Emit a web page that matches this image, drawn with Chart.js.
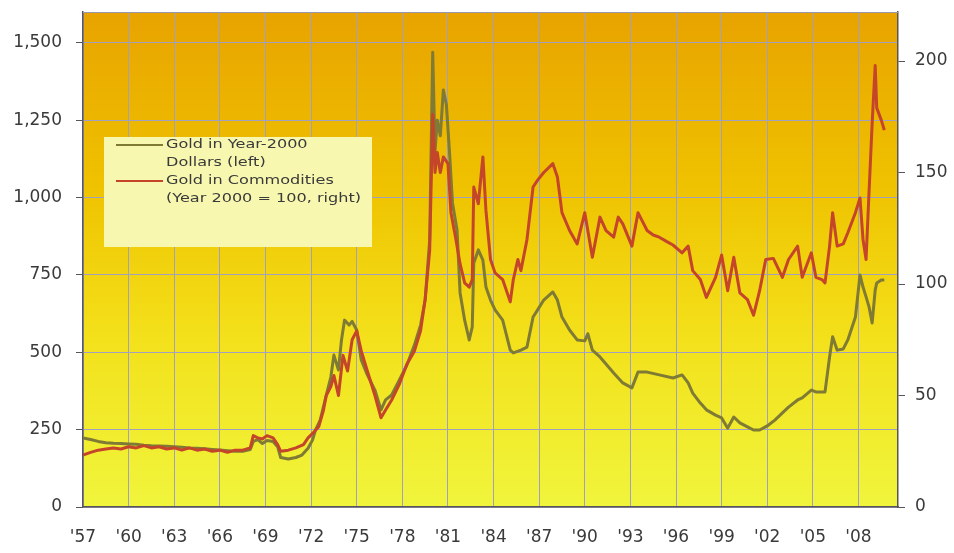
<!DOCTYPE html>
<html>
<head>
<meta charset="utf-8">
<script src="https://cdn.jsdelivr.net/npm/chart.js@4.4.1/dist/chart.umd.min.js"></script>
<style>
  html, body { margin: 0; padding: 0; background: #ffffff; }
  #wrap { width: 954px; height: 553px; position: relative; }
</style>
</head>
<body>
<div id="wrap"><canvas id="c" width="954" height="553"></canvas></div>
<script>
// Gold priced in year-2000 dollars (left axis), sampled by year
const realYears = [
  1957.0,1957.5,1958.0,1958.5,1959.0,1959.5,1960.0,1960.5,1961.0,1961.5,
  1962.0,1962.5,1963.0,1963.5,1964.0,1964.5,1965.0,1965.5,1966.0,1966.5,
  1967.0,1967.5,1968.0,1968.2,1968.5,1968.8,1969.1,1969.5,1969.8,1970.0,
  1970.5,1971.0,1971.4,1971.8,1972.1,1972.3,1972.6,1973.0,1973.3,1973.5,
  1973.8,1974.0,1974.2,1974.5,1974.7,1975.0,1975.3,1975.7,1976.2,1976.6,
  1976.9,1977.3,1977.8,1978.3,1978.8,1979.2,1979.5,1979.8,1980.0,1980.15,
  1980.3,1980.5,1980.7,1980.9,1981.1,1981.3,1981.6,1981.8,1982.1,1982.4,
  1982.6,1982.7,1983.0,1983.3,1983.5,1983.8,1984.1,1984.6,1985.1,1985.3,
  1985.8,1986.2,1986.6,1986.9,1987.3,1987.9,1988.2,1988.5,1989.0,1989.5,
  1990.0,1990.2,1990.5,1991.0,1991.9,1992.5,1993.1,1993.5,1994.1,1994.9,
  1995.8,1996.4,1996.8,1997.1,1997.6,1998.0,1998.6,1999.0,1999.4,1999.8,
  2000.2,2000.7,2001.1,2001.5,2002.0,2002.5,2003.0,2003.4,2004.0,2004.3,
  2004.9,2005.2,2005.8,2006.1,2006.3,2006.6,2007.0,2007.3,2007.8,2008.1,
  2008.3,2008.5,2008.7,2008.9,2009.1,2009.2,2009.5,2009.7
];
const realGold = [
  223,218,212,208,206,205,204,203,200,198,
  197,196,195,193,191,190,188,186,184,182,
  180,180,186,212,218,205,215,212,195,160,
  155,160,168,190,217,250,281,362,420,491,
  443,540,604,588,600,572,475,427,378,314,
  346,362,410,459,524,588,669,863,1470,1150,
  1250,1200,1348,1300,1150,983,895,692,604,540,
  582,789,831,798,711,669,637,604,507,498,
  507,517,614,637,669,695,669,614,572,540,
  537,560,507,485,433,401,385,436,436,427,
  417,427,401,368,336,314,297,288,255,291,
  272,259,249,249,262,281,304,323,346,353,
  378,372,372,485,550,507,511,540,614,750,
  711,679,646,595,701,724,734,734
];

// Gold priced in a commodity basket, year 2000 = 100 (right axis)
const commYears = [
  1957.0,1957.5,1958.0,1958.5,1959.0,1959.5,1960.0,1960.5,1961.0,1961.5,
  1962.0,1962.5,1963.0,1963.5,1964.0,1964.5,1965.0,1965.5,1966.0,1966.5,
  1967.0,1967.5,1968.0,1968.2,1968.5,1968.8,1969.1,1969.5,1969.8,1970.0,
  1970.5,1971.0,1971.5,1971.8,1972.1,1972.5,1972.8,1973.0,1973.3,1973.5,
  1973.8,1974.1,1974.4,1974.7,1975.0,1975.3,1975.7,1976.2,1976.6,1976.9,
  1977.3,1977.8,1978.3,1978.8,1979.2,1979.5,1979.8,1980.0,1980.15,1980.3,
  1980.5,1980.7,1981.0,1981.2,1981.5,1981.8,1982.1,1982.4,1982.6,1982.7,
  1983.0,1983.3,1983.5,1983.8,1984.1,1984.6,1985.1,1985.3,1985.6,1985.8,
  1986.2,1986.6,1986.9,1987.3,1987.9,1988.2,1988.5,1989.0,1989.5,1990.0,
  1990.5,1991.0,1991.4,1991.9,1992.2,1992.5,1993.1,1993.5,1994.1,1994.5,
  1994.9,1995.4,1995.8,1996.4,1996.8,1997.1,1997.6,1998.0,1998.6,1999.0,
  1999.4,1999.8,2000.2,2000.7,2001.1,2001.5,2001.9,2002.4,2003.0,2003.4,
  2004.0,2004.3,2004.9,2005.2,2005.6,2005.8,2006.1,2006.3,2006.6,2007.0,
  2007.3,2007.8,2008.1,2008.3,2008.5,2008.7,2008.9,2009.1,2009.2,2009.5,
  2009.7
];
const commGold = [
  23.3,24.5,25.5,26,26.5,26,27,26.5,27.5,26.5,
  27,26,26.5,25.5,26.5,25.5,26,25,25.5,24.5,
  25.5,25.5,26.5,32,31,30.5,32,31,28,25,
  25.5,26.5,28,31,33,36,43,50,54,59,
  50,68,61,75,79,70,61,50,40,43.5,
  48,55,64,70,79,93,115,176,150,159,
  150,157,154,132,121,109,100.5,98.6,102,143.5,
  136,157,133,111,105,102,92,102,111,106,
  120,143.5,146.6,150,154,148,132,124,118,132,
  112,130,124,121,130,127,117,132,124,122,
  121,119,117.5,114,117,106,102,94,103,113,
  97,112,96,93,86,97,111,111.5,103,111,
  117,103,114,103,102,100.5,117,132,117,118,
  123,132,138.6,120,111,142,172,198,179,173.5,
  169
];

// Axis ticks
const yearTicks = [1957,1960,1963,1966,1969,1972,1975,1978,1981,1984,1987,1990,1993,1996,1999,2002,2005,2008];
const leftTicks = [0,250,500,750,1000,1250,1500];
const rightTicks = [0,50,100,150,200];

const legendItems = [
  { color: '#7f7a34', lines: ['Gold in Year-2000', 'Dollars (left)'] },
  { color: '#c4452a', lines: ['Gold in Commodities', '(Year 2000 = 100, right)'] }
];

const toPoints = (xs, ys) => xs.map((x, i) => ({ x: x, y: ys[i] }));

// Warm vertical gradient behind the plot, plus the plot's top edge
const plotBackground = {
  id: 'plotBackground',
  beforeDraw(chart) {
    const { ctx, chartArea: a } = chart;
    const g = ctx.createLinearGradient(0, a.top, 0, a.bottom);
    g.addColorStop(0, '#e8a300');
    g.addColorStop(0.35, '#efc200');
    g.addColorStop(0.65, '#f3e01a');
    g.addColorStop(1, '#f0f53c');
    ctx.save();
    ctx.fillStyle = g;
    ctx.fillRect(a.left, a.top, a.right - a.left, a.bottom - a.top);
    ctx.restore();
  },
  afterDraw(chart) {
    const { ctx, chartArea: a } = chart;
    ctx.save();
    ctx.strokeStyle = '#9a98b0';
    ctx.lineWidth = 1;
    ctx.beginPath();
    ctx.moveTo(a.left, a.top + 0.5);
    ctx.lineTo(a.right, a.top + 0.5);
    ctx.stroke();
    ctx.restore();
  }
};

// Boxed legend with two-line entries inside the plot
const boxLegend = {
  id: 'boxLegend',
  afterDatasetsDraw(chart) {
    const ctx = chart.ctx;
    const bx = 104, by = 137, bw = 268, bh = 110;
    ctx.save();
    ctx.fillStyle = '#f7f7b0';
    ctx.fillRect(bx, by, bw, bh);
    ctx.font = '12px "DejaVu Sans", sans-serif';
    ctx.textBaseline = 'middle';
    const rowY = [145, 163, 181, 199];
    let r = 0;
    legendItems.forEach(item => {
      ctx.strokeStyle = item.color;
      ctx.lineWidth = 2;
      ctx.beginPath();
      ctx.moveTo(116, rowY[r]);
      ctx.lineTo(163, rowY[r]);
      ctx.stroke();
      item.lines.forEach(t => {
        ctx.save();
        ctx.translate(166, rowY[r]);
        ctx.scale(1.34, 1);
        ctx.fillStyle = '#3a3a3a';
        ctx.fillText(t, 0, 0);
        ctx.restore();
        r++;
      });
    });
    ctx.restore();
  }
};

const tickFont = { family: '"DejaVu Sans", sans-serif', size: 17 };
const tickColor = '#3a3a3a';
const gridColor = '#a2a0c0';
const axisColor = '#55555a';

new Chart(document.getElementById('c'), {
  type: 'line',
  data: {
    datasets: [
      {
        label: 'Gold in Commodities (Year 2000 = 100, right)',
        data: toPoints(commYears, commGold),
        yAxisID: 'yRight',
        borderColor: '#c4452a',
        borderWidth: 3,
        pointRadius: 0,
        tension: 0,
        borderJoinStyle: 'round',
        order: 0
      },
      {
        label: 'Gold in Year-2000 Dollars (left)',
        data: toPoints(realYears, realGold),
        yAxisID: 'yLeft',
        borderColor: '#7f7a34',
        borderWidth: 3,
        pointRadius: 0,
        tension: 0,
        borderJoinStyle: 'round',
        order: 1
      }
    ]
  },
  options: {
    responsive: false,
    animation: false,
    devicePixelRatio: 1,
    layout: { padding: { top: 12, left: 0, right: 0, bottom: 0 } },
    plugins: { legend: { display: false }, tooltip: { enabled: false } },
    scales: {
      x: {
        type: 'linear',
        min: 1957,
        max: 2010.6,
        afterBuildTicks: s => { s.ticks = yearTicks.map(v => ({ value: v })); },
        afterFit: s => { s.height = 46; s.paddingLeft = 0; s.paddingRight = 0; },
        ticks: {
          font: tickFont,
          color: tickColor,
          padding: 20,
          maxRotation: 0,
          autoSkip: false,
          callback: v => "'" + String(v).slice(2)
        },
        grid: { color: gridColor, lineWidth: 1, drawTicks: false },
        border: { color: axisColor, width: 1.5 }
      },
      yLeft: {
        type: 'linear',
        position: 'left',
        min: 0,
        max: 1600,
        afterBuildTicks: s => { s.ticks = leftTicks.map(v => ({ value: v })); },
        afterFit: s => { s.width = 83; s.paddingTop = 0; s.paddingBottom = 0; },
        ticks: {
          font: tickFont,
          color: tickColor,
          padding: 14,
          callback: v => v.toLocaleString('en-US')
        },
        grid: { color: gridColor, lineWidth: 1, tickLength: 7, tickColor: axisColor },
        border: { color: axisColor, width: 1.5 }
      },
      yRight: {
        type: 'linear',
        position: 'right',
        min: 0,
        max: 222,
        afterBuildTicks: s => { s.ticks = rightTicks.map(v => ({ value: v })); },
        afterFit: s => { s.width = 56; s.paddingTop = 0; s.paddingBottom = 0; },
        ticks: { font: tickFont, color: tickColor, padding: 10 },
        grid: { drawOnChartArea: false, tickLength: 7, tickColor: axisColor },
        border: { color: axisColor, width: 1.5 }
      }
    }
  },
  plugins: [plotBackground, boxLegend]
});
</script>
</body>
</html>
